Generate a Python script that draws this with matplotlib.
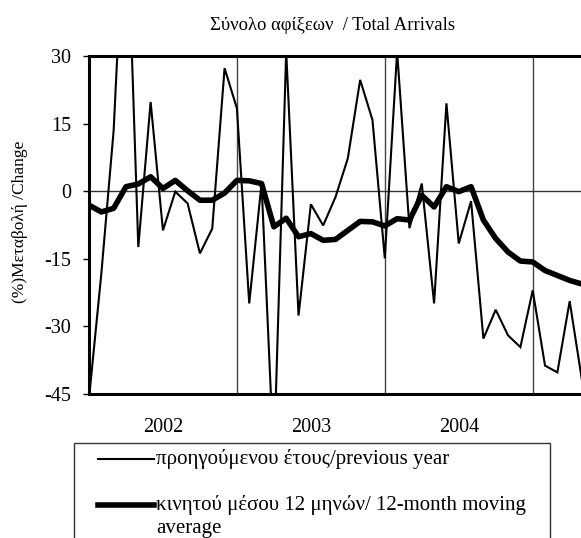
import matplotlib
matplotlib.use("Agg")
import matplotlib.pyplot as plt
from matplotlib.lines import Line2D
from matplotlib.patches import Rectangle

plt.rcParams['font.family'] = ['Liberation Serif', 'DejaVu Serif']

title = "Σύνολο αφίξεων  / Total Arrivals"
ylabel = "(%)Μεταβολή /Change"
year_labels = ["2002", "2003", "2004"]
legend_labels = ["προηγούμενου έτους/previous year",
                 "κινητού μέσου 12 μηνών/ 12-month moving\naverage"]

# monthly % change vs previous year (thin) and 12-month moving average (thick)
yoy = [-46, -18.3, 13.5, 70, -12.4, 19.8, -8.7, -0.1, -2.7, -13.8, -8.3, 27.3,
       18.4, -24.9, 1.7, -60, 31, -27.6, -2.9, -7.6, -1.3, 7.3, 24.7, 15.8,
       -14.9, 31, -8.2, 1.7, -24.9, 19.5, -11.6, -2.2, -32.7, -26.3, -32.0, -34.6,
       -22.0, -38.7, -40.2, -24.4, -42]
mavg = [-3.1, -4.6, -3.8, 1.0, 1.6, 3.2, 0.6, 2.4, 0.1, -2.0, -2.0, -0.4,
        2.4, 2.3, 1.7, -7.9, -6.0, -10.1, -9.4, -10.9, -10.7, -8.7, -6.7, -6.8,
        -7.7, -6.1, -6.4, -0.9, -3.5, 1.0, -0.1, 1.0, -6.4, -10.5, -13.5, -15.5,
        -15.7, -17.6, -18.7, -19.8, -20.6]
yticks = [30, 15, 0, -15, -30, -45]

W, H = 581, 538
fig = plt.figure(figsize=(W / 100, H / 100), dpi=100)
ax = fig.add_axes([89 / W, 1 - 394 / H, 493 / W, 338 / H])

x = list(range(len(yoy)))
ax.plot(x, yoy, color='black', lw=1.5, solid_joinstyle='miter', zorder=3)
ax.plot(x, mavg, color='black', lw=4.0, solid_joinstyle='round', zorder=4)

ax.set_xlim(0, 40)
ax.set_ylim(-45, 30)
ax.set_yticks(yticks)
ax.set_yticklabels([str(v) for v in yticks], fontsize=14.5)
ax.tick_params(axis='y', direction='out', length=4, width=1, pad=9)

ax.set_xticks([6, 18, 30])
ax.set_xticklabels(year_labels, fontsize=14.5)
ax.tick_params(axis='x', length=0, pad=17)

for xv in [12, 24, 36]:
    ax.axvline(xv, color='#444444', lw=1.0, zorder=2)
ax.axhline(0, color='#333333', lw=1.0, zorder=2)

for s in ['top', 'left', 'bottom']:
    ax.spines[s].set_linewidth(2.2)
ax.spines['right'].set_linewidth(1.0)
ax.spines['right'].set_color('#888888')

fig.text(332 / W, 1 - 26 / H, title, ha='center', va='center', fontsize=13.4)
fig.text(20 / W, 1 - 222 / H, ylabel, ha='center', va='center', rotation=90, fontsize=12.5)

# legend box
rect = Rectangle((74 / W, 1 - 560 / H), (550 - 74) / W, (560 - 443) / H,
                 transform=fig.transFigure, fill=False, edgecolor='#333333', lw=1.0)
fig.add_artist(rect)
fig.add_artist(Line2D([98 / W, 154 / W], [1 - 459 / H, 1 - 459 / H],
                      transform=fig.transFigure, color='black', lw=1.5))
fig.add_artist(Line2D([98 / W, 154 / W], [1 - 505 / H, 1 - 505 / H],
                      transform=fig.transFigure, color='black', lw=4.0))
fig.text(156 / W, 1 - 459 / H, legend_labels[0], ha='left', va='center', fontsize=15)
fig.text(156 / W, 1 - 505 / H, legend_labels[1].split("\n")[0], ha='left', va='center', fontsize=15)
fig.text(156 / W, 1 - 529 / H, legend_labels[1].split("\n")[1], ha='left', va='center', fontsize=15)

fig.savefig("out.png", dpi=100)
